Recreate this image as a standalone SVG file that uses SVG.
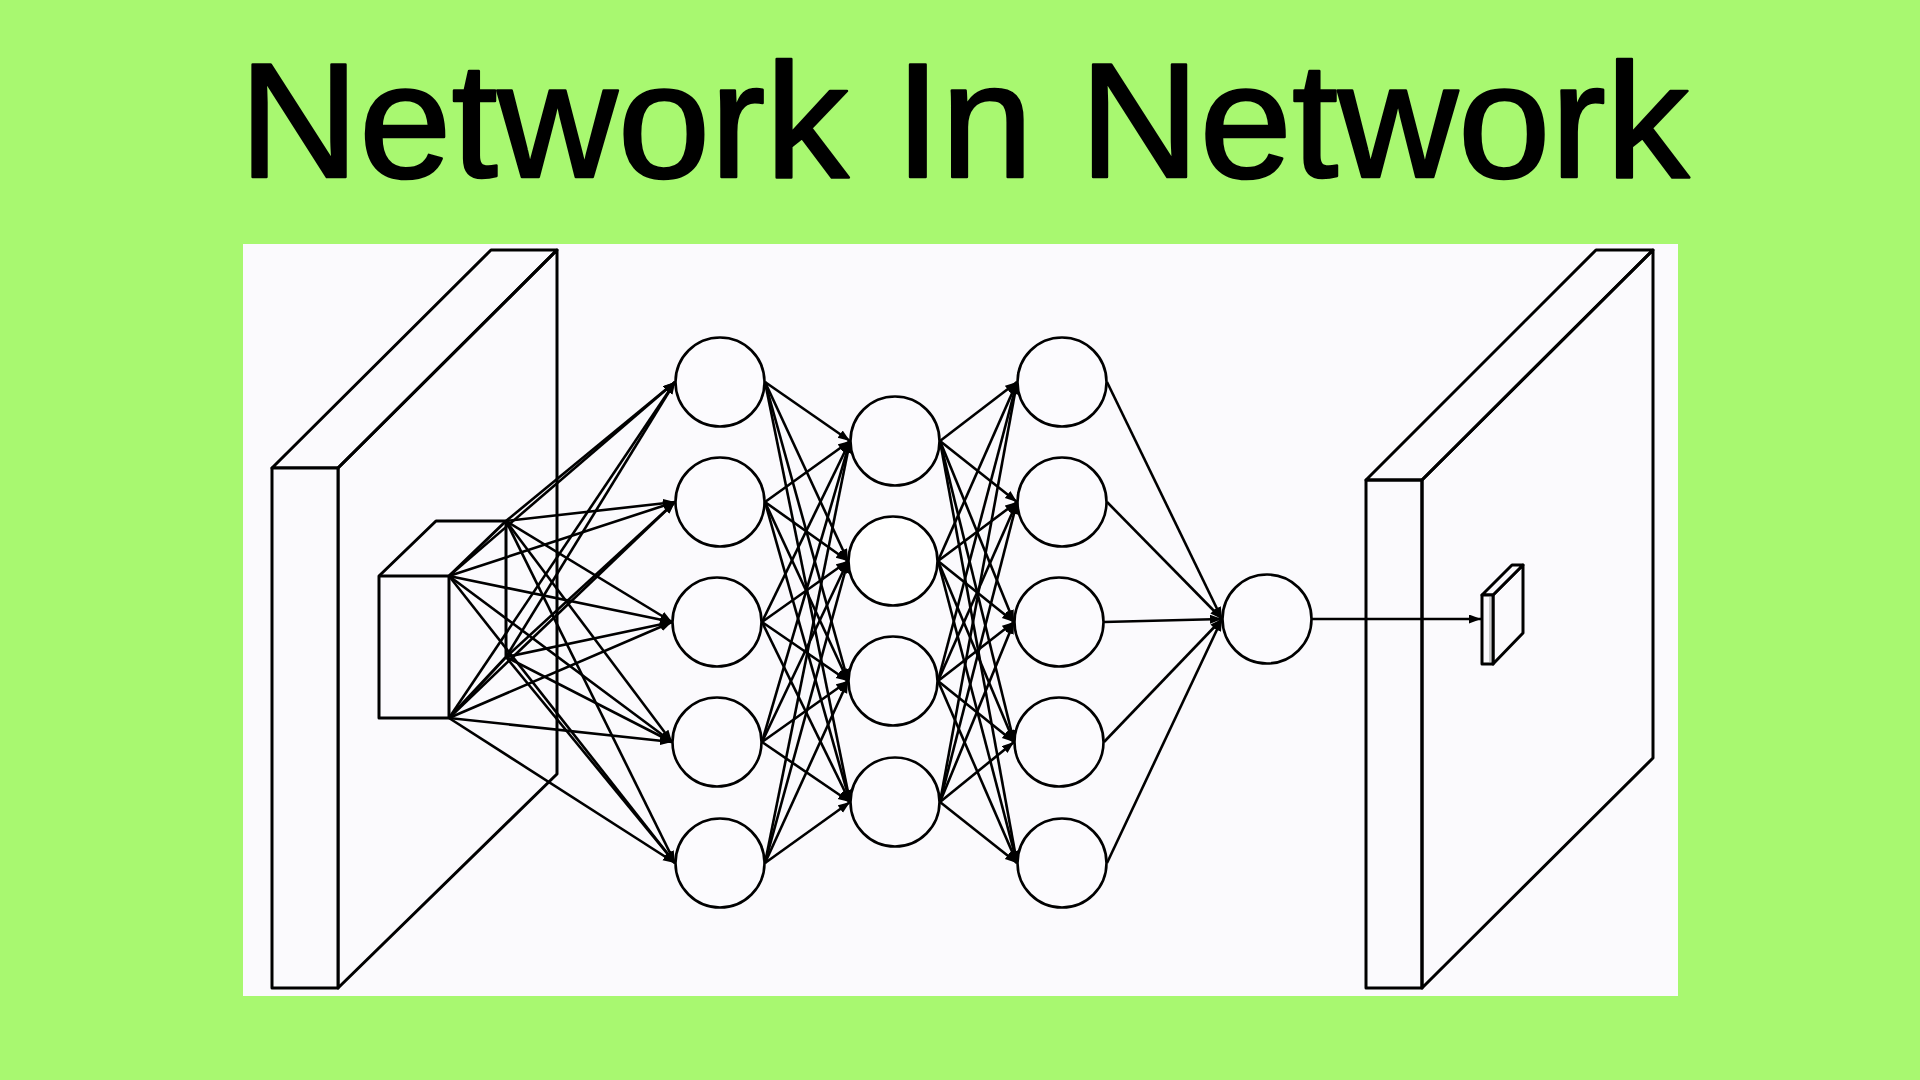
<svg xmlns="http://www.w3.org/2000/svg" width="1920" height="1080" viewBox="0 0 1920 1080">
<defs>
<style>
.bg{fill:#a8f870}
.panel{fill:#fbfafd}
.title{font-family:"Liberation Sans",Arial,sans-serif;font-size:163px;fill:#000;stroke:#000;stroke-width:2.5;stroke-linejoin:round}
.edge{fill:none;stroke:#000;stroke-width:3;stroke-linejoin:round}
.face{fill:#fbfafd;stroke:#000;stroke-width:3;stroke-linejoin:round}
.node{fill:#fcfbfe;stroke:#000;stroke-width:2.6}
.conn line{stroke:#000;stroke-width:2.6;marker-end:url(#ah)}
</style>
<marker id="ah" markerUnits="userSpaceOnUse" markerWidth="13" markerHeight="10" refX="12" refY="4.5" orient="auto">
<path d="M0,0 L12,4.5 L0,9 z" fill="#000"/>
</marker>
</defs>
<rect class="bg" x="0" y="0" width="1920" height="1080"/>
<text class="title" x="239" y="177" textLength="1450" lengthAdjust="spacingAndGlyphs">Network In Network</text>
<rect class="panel" x="243" y="244" width="1435" height="752"/>

<g id="input-slab">
<polygon class="edge" points="338,468 557,250 557,774 338,988"/>
<polygon class="edge" points="272,468 491,250 557,250 338,468"/>
<rect class="face" x="272" y="468" width="66" height="520"/>
</g>

<g id="patch-cube">
<polygon class="face" points="379,576 436,521 506,521 506,657 449,718 379,718"/>
<polyline class="edge" points="379,576 449,576 506,521"/>
<line class="edge" x1="449" y1="576" x2="449" y2="718"/>
</g>

<g id="output-slab">
<polygon class="edge" points="1422,480 1653,250 1653,758 1422,988"/>
<polygon class="edge" points="1366,480 1596,250 1653,250 1422,480"/>
<rect class="edge" x="1366" y="480" width="56" height="508"/>
</g>

<g id="output-pixel">
<polygon class="face" points="1493,595 1523,565 1523,633 1493,664"/>
<polygon class="face" points="1482,595 1512,565 1523,565 1493,595"/>
<rect class="face" x="1482" y="595" width="11" height="69"/>
<line x1="1490" y1="597" x2="1490" y2="662" stroke="#bbb" stroke-width="1.5"/>
</g>

<g class="conn" id="connectors">
<!-- cube to layer 1 -->
<line x1="449" y1="576" x2="675" y2="382"/><line x1="449" y1="576" x2="675" y2="502"/><line x1="449" y1="576" x2="672" y2="622"/><line x1="449" y1="576" x2="672" y2="742"/><line x1="449" y1="576" x2="675" y2="863"/>
<line x1="506" y1="521" x2="675" y2="382"/><line x1="506" y1="521" x2="675" y2="502"/><line x1="506" y1="521" x2="672" y2="622"/><line x1="506" y1="521" x2="672" y2="742"/><line x1="506" y1="521" x2="675" y2="863"/>
<line x1="506" y1="657" x2="675" y2="382"/><line x1="506" y1="657" x2="675" y2="502"/><line x1="506" y1="657" x2="672" y2="622"/><line x1="506" y1="657" x2="672" y2="742"/><line x1="506" y1="657" x2="675" y2="863"/>
<line x1="449" y1="718" x2="675" y2="382"/><line x1="449" y1="718" x2="675" y2="502"/><line x1="449" y1="718" x2="672" y2="622"/><line x1="449" y1="718" x2="672" y2="742"/><line x1="449" y1="718" x2="675" y2="863"/>
<!-- layer 1 to layer 2 -->
<line x1="765" y1="382" x2="850" y2="441"/><line x1="765" y1="382" x2="848" y2="561"/><line x1="765" y1="382" x2="848" y2="681"/><line x1="765" y1="382" x2="850" y2="802"/>
<line x1="765" y1="502" x2="850" y2="441"/><line x1="765" y1="502" x2="848" y2="561"/><line x1="765" y1="502" x2="848" y2="681"/><line x1="765" y1="502" x2="850" y2="802"/>
<line x1="762" y1="622" x2="850" y2="441"/><line x1="762" y1="622" x2="848" y2="561"/><line x1="762" y1="622" x2="848" y2="681"/><line x1="762" y1="622" x2="850" y2="802"/>
<line x1="762" y1="742" x2="850" y2="441"/><line x1="762" y1="742" x2="848" y2="561"/><line x1="762" y1="742" x2="848" y2="681"/><line x1="762" y1="742" x2="850" y2="802"/>
<line x1="765" y1="863" x2="850" y2="441"/><line x1="765" y1="863" x2="848" y2="561"/><line x1="765" y1="863" x2="848" y2="681"/><line x1="765" y1="863" x2="850" y2="802"/>
<!-- layer 2 to layer 3 -->
<line x1="940" y1="441" x2="1017" y2="382"/><line x1="940" y1="441" x2="1017" y2="502"/><line x1="940" y1="441" x2="1014" y2="622"/><line x1="940" y1="441" x2="1014" y2="742"/><line x1="940" y1="441" x2="1017" y2="863"/>
<line x1="938" y1="561" x2="1017" y2="382"/><line x1="938" y1="561" x2="1017" y2="502"/><line x1="938" y1="561" x2="1014" y2="622"/><line x1="938" y1="561" x2="1014" y2="742"/><line x1="938" y1="561" x2="1017" y2="863"/>
<line x1="938" y1="681" x2="1017" y2="382"/><line x1="938" y1="681" x2="1017" y2="502"/><line x1="938" y1="681" x2="1014" y2="622"/><line x1="938" y1="681" x2="1014" y2="742"/><line x1="938" y1="681" x2="1017" y2="863"/>
<line x1="940" y1="802" x2="1017" y2="382"/><line x1="940" y1="802" x2="1017" y2="502"/><line x1="940" y1="802" x2="1014" y2="622"/><line x1="940" y1="802" x2="1014" y2="742"/><line x1="940" y1="802" x2="1017" y2="863"/>
<!-- layer 3 to final -->
<line x1="1107" y1="382" x2="1222" y2="619"/><line x1="1107" y1="502" x2="1222" y2="619"/><line x1="1104" y1="622" x2="1222" y2="619"/><line x1="1104" y1="742" x2="1222" y2="619"/><line x1="1107" y1="863" x2="1222" y2="619"/>
<!-- final to output pixel -->
<line x1="1312" y1="619" x2="1481" y2="619"/>
</g>

<g id="layer1">
<circle id="n1-1" class="node" cx="720" cy="382" r="44.5"/>
<circle id="n1-2" class="node" cx="720" cy="502" r="44.5"/>
<circle id="n1-3" class="node" cx="717" cy="622" r="44.5"/>
<circle id="n1-4" class="node" cx="717" cy="742" r="44.5"/>
<circle id="n1-5" class="node" cx="720" cy="863" r="44.5"/>
</g>
<g id="layer2">
<circle id="n2-1" class="node" cx="895" cy="441" r="44.5"/>
<circle id="n2-2" class="node" cx="893" cy="561" r="44.5" style="fill:#fff"/>
<circle id="n2-3" class="node" cx="893" cy="681" r="44.5"/>
<circle id="n2-4" class="node" cx="895" cy="802" r="44.5"/>
</g>
<g id="layer3">
<circle id="n3-1" class="node" cx="1062" cy="382" r="44.5"/>
<circle id="n3-2" class="node" cx="1062" cy="502" r="44.5"/>
<circle id="n3-3" class="node" cx="1059" cy="622" r="44.5"/>
<circle id="n3-4" class="node" cx="1059" cy="742" r="44.5"/>
<circle id="n3-5" class="node" cx="1062" cy="863" r="44.5"/>
</g>
<g id="final-node">
<circle class="node" cx="1267" cy="619" r="44.5"/>
</g>
</svg>
